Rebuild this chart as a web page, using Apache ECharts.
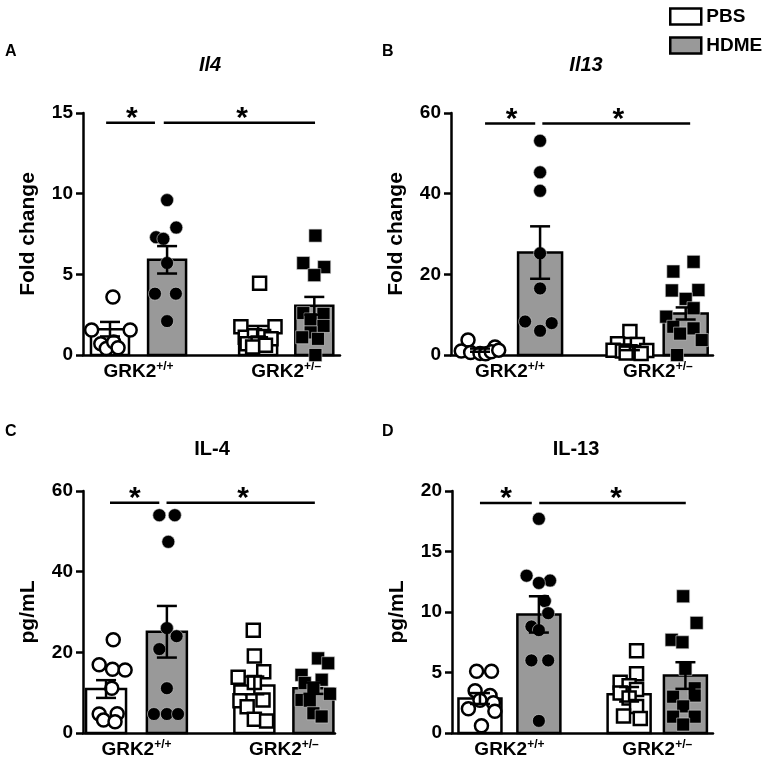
<!DOCTYPE html>
<html>
<head>
<meta charset="utf-8">
<script src="https://cdn.jsdelivr.net/npm/echarts@6/dist/echarts.min.js"></script>
<style>
html,body{margin:0;padding:0;background:#fff}
#main{width:765px;height:759px}
</style>
</head>
<body>
<div id="main"></div>
<script>
var FONT = '"Liberation Sans", Arial, sans-serif';
var GRAY = '#999999';

// A - Il4 (fold change)  order: PBS +/+, HDME +/+, PBS +/-, HDME +/-
var aMean = [1.6, 5.9, 1.45, 3.05];
var aSem = [0.45, 0.85, 0.35, 0.55];
var aPbsWt = [[0.08,3.6],[-0.5,1.55],[0.55,1.55],[-0.25,0.7],[-0.1,0.4],[0.1,0.8],[0.22,0.45]];
var aHdmeWt = [[0,9.6],[0.25,7.9],[-0.3,7.3],[-0.1,7.2],[0,5.7],[-0.33,3.8],[0.24,3.8],[0,2.1]];
var aPbsHet = [[0.04,4.45],[-0.47,1.75],[0.46,1.75],[-0.35,1.1],[-0.1,1.2],[0.15,1.15],[0.35,1.0],[-0.3,0.7],[0,0.75],[0.2,0.6],[-0.15,0.5]];
var aHdmeHet = [[0.03,7.4],[-0.3,5.7],[0.27,5.45],[0,4.95],[-0.3,2.6],[0.25,2.55],[-0.1,2.2],[0.25,1.8],[-0.1,1.4],[-0.33,1.1],[0.1,1.0],[0.03,0]];
var aSig = [[0.63,1.96,14.4,1.33],[2.2,6.32,14.4,4.33]];

// B - Il13 (fold change)
var bMean = [1.2, 25.4, 1.7, 10.3];
var bSem = [0.4, 6.5, 0.5, 1.5];
var bPbsWt = [[-0.32,3.7],[0.4,2.0],[-0.5,1.0],[-0.25,0.6],[0,0.4],[0.15,0.3],[0.3,0.8],[0.5,1.2]];
var bHdmeWt = [[0,53.1],[0,45.3],[0,40.7],[0,25.2],[0,16.5],[-0.4,8.3],[0.31,7.9],[0,6.0]];
var bPbsHet = [[0,5.8],[-0.33,2.8],[0.2,2.6],[-0.45,1.2],[-0.2,1.0],[0,0.8],[0.2,0.6],[0.45,1.1],[-0.1,0.5],[0.3,0.4]];
var bHdmeHet = [[0.21,23.1],[-0.33,20.7],[0.34,16.1],[-0.37,16.0],[0,13.9],[0.21,11.6],[-0.52,9.5],[-0.33,7.0],[0.21,6.6],[-0.15,5.3],[0.43,3.7],[-0.23,0]];
var bSig = [[0.91,2.25,57.4,1.62],[2.44,6.39,57.4,4.47]];

// C - IL-4 (pg/mL)
var cMean = [10.9, 25.1, 11.8, 11.1];
var cSem = [2.2, 6.4, 2.2, 1.4];
var cPbsWt = [[0.2,23.1],[-0.19,16.9],[0.18,15.8],[0.53,15.6],[0.16,11.1],[-0.19,4.7],[0.31,4.8],[-0.07,3.2],[0.25,2.8]];
var cHdmeWt = [[-0.21,54],[0.22,54],[0.04,47.4],[0,26],[0.27,24],[-0.21,20.8],[0,11.1],[-0.36,4.7],[0,4.7],[0.31,4.7]];
var cPbsHet = [[-0.03,25.5],[0,19.1],[0.26,15.2],[-0.45,13.8],[0,12.5],[0.24,8.2],[-0.4,8.0],[-0.2,6.5],[0,3.4],[0.34,3.0]];
var cHdmeHet = [[0.13,18.5],[0.41,17.3],[-0.33,14.4],[0.23,13.2],[-0.24,12.4],[0,11.0],[0.46,9.7],[-0.33,8.2],[-0.1,8.0],[0,4.9],[0.23,4.1]];
var cSig = [[0.75,2.12,57.1,1.44],[2.32,6.44,57.1,4.45]];

// D - IL-13 (pg/mL)
var dMean = [2.85, 9.8, 3.2, 4.75];
var dSem = [0.45, 1.5, 0.6, 1.1];
var dPbsWt = [[-0.09,5.1],[0.31,5.1],[-0.13,3.5],[0.27,3.1],[0,2.7],[0.36,2.5],[-0.31,2.0],[0.4,1.8],[0.04,0.6]];
var dHdmeWt = [[0,17.7],[-0.33,13.0],[0.3,12.6],[0,12.4],[0.16,10.9],[0.25,9.9],[-0.2,8.8],[0,8.5],[-0.2,6.0],[0.25,6.0],[0,1.0]];
var dPbsHet = [[0.2,6.8],[0.2,4.9],[-0.24,4.2],[0,3.9],[0.2,3.6],[-0.24,3.3],[0,2.9],[0.2,2.2],[-0.15,1.4],[0.3,1.2]];
var dHdmeHet = [[-0.06,11.3],[0.3,9.1],[-0.37,7.7],[-0.08,7.5],[0,5.3],[0.25,3.7],[-0.33,3.0],[0.25,3.1],[-0.06,2.2],[-0.33,1.35],[0.25,1.35],[-0.06,0.7]];
var dSig = [[0.75,2.14,19.0,1.45],[2.34,6.27,19.0,4.4]];

var panels = [
	{grid:{left:83,top:113,width:257,height:242}, centers:[0.735,2.29,4.77,6.3], barW:38, yMax:15, yStep:5, yName:'Fold change',
		mean:aMean, sem:aSem, pts:[aPbsWt,aHdmeWt,aPbsHet,aHdmeHet], sig:aSig},
	{grid:{left:451,top:113,width:262,height:242}, centers:[0.775,2.38,4.78,6.27], barW:44, yMax:60, yStep:20, yName:'Fold change',
		mean:bMean, sem:bSem, pts:[bPbsWt,bHdmeWt,bPbsHet,bHdmeHet], sig:bSig},
	{grid:{left:83,top:491,width:252,height:242}, centers:[0.64,2.33,4.76,6.4], barW:40, yMax:60, yStep:20, yName:'pg/mL',
		mean:cMean, sem:cSem, pts:[cPbsWt,cHdmeWt,cPbsHet,cHdmeHet], sig:cSig},
	{grid:{left:452,top:491,width:261,height:242}, centers:[0.75,2.33,4.75,6.26], barW:43, yMax:20, yStep:5, yName:'pg/mL',
		mean:dMean, sem:dSem, pts:[dPbsWt,dHdmeWt,dPbsHet,dHdmeHet], sig:dSig}
];

function barRenderer(w) {
	return function(params, api) {
		var top = api.coord([api.value(0), api.value(1)]);
		var base = api.coord([api.value(0), 0]);
		return {
			type: 'rect',
			shape: {x: top[0] - w / 2, y: top[1], width: w, height: base[1] - top[1]},
			style: {fill: api.visual('color'), stroke: '#000', lineWidth: 2.5}
		};
	};
}

function errRenderer(params, api) {
	var x = api.value(0), m = api.value(1), s = api.value(2);
	var hi = api.coord([x, m + s]), lo = api.coord([x, m - s]);
	var st = {stroke: '#000', lineWidth: 2.5};
	return {
		type: 'group',
		children: [
			{type: 'line', shape: {x1: hi[0], y1: hi[1], x2: lo[0], y2: lo[1]}, style: st},
			{type: 'line', shape: {x1: hi[0] - 10, y1: hi[1], x2: hi[0] + 10, y2: hi[1]}, style: st},
			{type: 'line', shape: {x1: lo[0] - 10, y1: lo[1], x2: lo[0] + 10, y2: lo[1]}, style: st}
		]
	};
}

function sigRenderer(params, api) {
	var p1 = api.coord([api.value(0), api.value(2)]);
	var p2 = api.coord([api.value(1), api.value(2)]);
	var ps = api.coord([api.value(3), api.value(2)]);
	return {
		type: 'group',
		children: [
			{type: 'line', shape: {x1: p1[0], y1: p1[1], x2: p2[0], y2: p2[1]}, style: {stroke: '#000', lineWidth: 2.5}},
			{type: 'text', style: {text: '*', x: ps[0], y: ps[1] - 4, align: 'center', verticalAlign: 'middle',
				font: 'bold 30px ' + FONT, fill: '#000'}}
		]
	};
}

var grids = [], xAxes = [], yAxes = [], series = [];

panels.forEach(function(p, i) {
	grids.push(p.grid);
	var c = p.centers;
	var mid = [(c[0] + c[1]) / 2, (c[2] + c[3]) / 2];
	xAxes.push({
		type: 'value', gridIndex: i, min: 0, max: 7,
		axisLine: {show: true, onZero: false, lineStyle: {color: '#000', width: 2.5}},
		axisTick: {show: false},
		splitLine: {show: false},
		axisLabel: {
			customValues: mid, margin: 6,
			formatter: function(v) {
				return v < 3.5 ? '{b|GRK2}{s|+/+}' : '{b|GRK2}{s|+/\u2013}';
			},
			rich: {
				b: {fontSize: 19, fontWeight: 'bold', fontFamily: FONT, color: '#000', lineHeight: 21},
				s: {fontSize: 12, fontWeight: 'bold', fontFamily: FONT, color: '#000', verticalAlign: 'top', lineHeight: 13}
			}
		}
	});
	yAxes.push({
		type: 'value', gridIndex: i, min: 0, max: p.yMax, interval: p.yStep,
		name: p.yName, nameLocation: 'middle', nameGap: 44, nameRotate: 90,
		nameTextStyle: {fontSize: 21, fontWeight: 'bold', fontFamily: FONT, color: '#000'},
		axisLine: {show: true, lineStyle: {color: '#000', width: 2.5}},
		axisTick: {show: true, length: 7, lineStyle: {color: '#000', width: 2.5}},
		splitLine: {show: false},
		axisLabel: {fontSize: 19, fontWeight: 'bold', fontFamily: FONT, color: '#000', margin: 10}
	});

	series.push({
		name: 'PBS', type: 'custom', xAxisIndex: i, yAxisIndex: i, z: 2,
		itemStyle: {color: '#fff', borderColor: '#000', borderWidth: 2.5},
		renderItem: barRenderer(p.barW),
		data: [[c[0], p.mean[0]], [c[2], p.mean[2]]]
	});
	series.push({
		name: 'HDME', type: 'custom', xAxisIndex: i, yAxisIndex: i, z: 2,
		itemStyle: {color: GRAY, borderColor: '#000', borderWidth: 2.5},
		renderItem: barRenderer(p.barW),
		data: [[c[1], p.mean[1]], [c[3], p.mean[3]]]
	});

	p.pts.forEach(function(arr, g) {
		var filled = (g % 2 === 1);
		series.push({
			type: 'scatter', xAxisIndex: i, yAxisIndex: i, z: 3,
			symbol: g < 2 ? 'circle' : 'rect',
			symbolSize: 13,
			itemStyle: filled ? {color: '#000', opacity: 1, borderColor: '#d8d8d8', borderWidth: 0.6}
				: {color: '#fff', opacity: 1, borderColor: '#000', borderWidth: 2.5},
			data: arr.map(function(d) { return [c[g] + d[0], d[1]]; })
		});
	});

	series.push({
		type: 'custom', xAxisIndex: i, yAxisIndex: i, z: 4,
		renderItem: errRenderer,
		data: c.map(function(x, g) { return [x, p.mean[g], p.sem[g]]; })
	});
	series.push({
		type: 'custom', xAxisIndex: i, yAxisIndex: i, z: 4,
		renderItem: sigRenderer,
		data: p.sig
	});
});

function label(text, x, y, size, style, align) {
	return {type: 'text', x: x, y: y, style: {text: text, fill: '#000', align: align || 'center', verticalAlign: 'middle',
		font: (style || '') + ' bold ' + size + 'px ' + FONT}};
}

var myChart = echarts.init(document.getElementById('main'));
var option = {
	animation: false,
	grid: grids,
	xAxis: xAxes,
	yAxis: yAxes,
	legend: {
		orient: 'vertical', left: 664, top: 2, itemWidth: 31, itemHeight: 16, itemGap: 10,
		icon: 'rect',
		textStyle: {fontSize: 19, fontWeight: 'bold', fontFamily: FONT, color: '#000'},
		data: [
			{name: 'PBS', itemStyle: {color: '#fff', borderColor: '#000', borderWidth: 2.5}},
			{name: 'HDME', itemStyle: {color: GRAY, borderColor: '#000', borderWidth: 2.5}}
		]
	},
	graphic: [
		label('A', 5, 52, 16, '', 'left'),
		label('B', 382, 52, 16, '', 'left'),
		label('C', 5, 432, 16, '', 'left'),
		label('D', 382, 432, 16, '', 'left'),
		label('Il4', 210, 65, 20, 'italic'),
		label('Il13', 586, 65, 20, 'italic'),
		label('IL-4', 212, 449, 20),
		label('IL-13', 576, 449, 20)
	],
	series: series
};
myChart.setOption(option);
</script>
</body>
</html>
